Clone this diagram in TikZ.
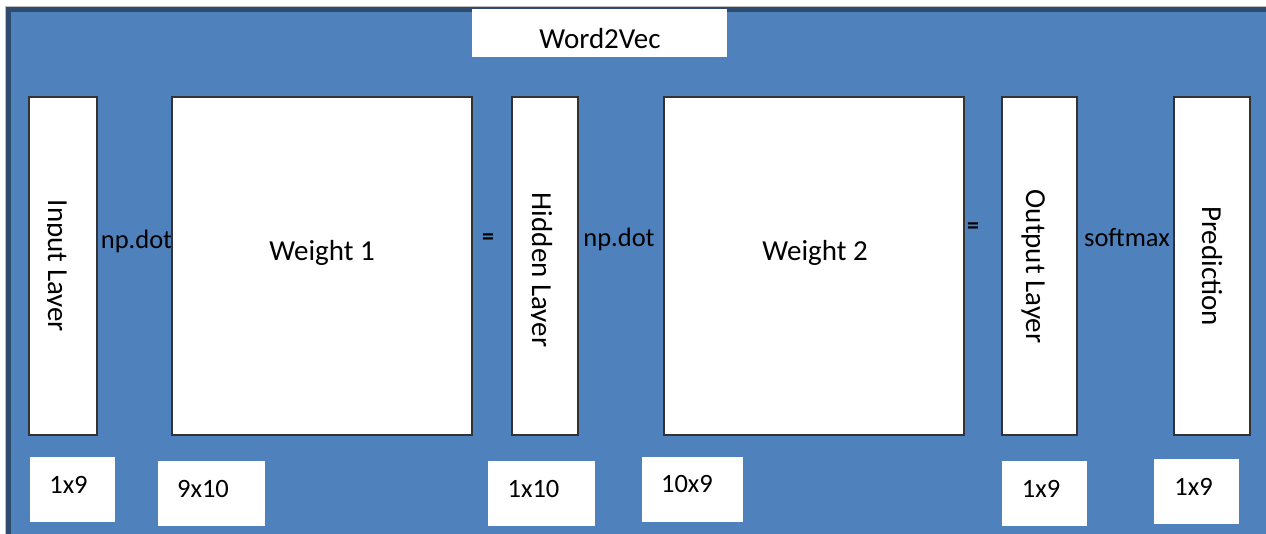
\documentclass[tikz,border=0pt]{standalone}
\usepackage{fontspec}
\setmainfont{Carlito}
\definecolor{bg}{HTML}{4F81BD}
\definecolor{frameblue}{HTML}{2E4A6E}
\definecolor{edge}{HTML}{333333}
\begin{document}
\begin{tikzpicture}[x=1pt,y=-1pt,
  tall/.style={draw=edge, line width=1.4pt, fill=white, inner sep=0pt, outer sep=0pt, anchor=north west, minimum height=338pt},
  dimbox/.style={fill=white, inner sep=0pt, outer sep=0pt, anchor=north west, minimum height=65pt},
  big/.style={font=\fontsize{29}{34}\selectfont, inner sep=0pt, anchor=base},
  small/.style={font=\fontsize{26.5}{32}\selectfont, inner sep=0pt, anchor=base},
  eqsign/.style={font=\fontsize{24}{30}\selectfont\bfseries, inner sep=0pt, anchor=center},
  vert/.style={big, rotate=-90, anchor=base}]
\useasboundingbox (0,0) rectangle (1266,533);
\fill[white] (0,0) rectangle (1266,533);
\draw[black!25, line width=1pt] (5.5,6.5) rectangle (1290,560);
\filldraw[fill=bg, draw=frameblue, line width=5pt] (8.5,9.5) rectangle (1290,560);

% operator labels (drawn first so boxes overlap them)
\node[small] (dot1) at (136.5,248) {np.dot};
\node[eqsign] (eq1) at (488,239) {=};
\node[small] (dot2) at (619,246) {np.dot};
\node[eqsign] (eq2) at (973,228) {=};
\node[small] (soft) at (1127,246) {softmax};

% title
\node[fill=white, inner sep=0pt, outer sep=0pt, anchor=north west, minimum width=255pt, minimum height=48pt] (titlebox) at (472,9) {};
\node[big] (title) at (600,48) {Word2Vec};

% tall boxes
\node[tall, minimum width=68pt] (input) at (29,97) {};
\node[tall, minimum width=300pt] (w1) at (172,97) {};
\node[tall, minimum width=66pt] (hidden) at (512,97) {};
\node[tall, minimum width=300pt] (w2) at (664,97) {};
\node[tall, minimum width=75pt] (output) at (1002,97) {};
\node[tall, minimum width=76pt] (pred) at (1174,97) {};

\begin{scope}
  \clip (47.5,98) rectangle (96,434);
  \node[vert] (inputtxt) at (48,266) {Input Layer};
\end{scope}
\node[big] (w1txt) at (322,260) {Weight 1};
\begin{scope}
  \clip (531.5,98) rectangle (577,434);
  \node[vert] (hiddentxt) at (532,270) {Hidden Layer};
\end{scope}
\node[big] (w2txt) at (815,260) {Weight 2};
\node[vert] (outputtxt) at (1026,266.5) {Output Layer};
\node[vert] (predtxt) at (1202,266) {Prediction};

% dimension boxes
\node[dimbox, minimum width=85pt] (d1) at (30,457) {};
\node[small] (d1t) at (68.5,493) {1x9};
\node[dimbox, minimum width=107pt] (d2) at (158,461) {};
\node[small] (d2t) at (203,497) {9x10};
\node[dimbox, minimum width=107pt] (d3) at (488,461) {};
\node[small] (d3t) at (533.5,497) {1x10};
\node[dimbox, minimum width=101pt] (d4) at (642,457) {};
\node[small] (d4t) at (687,492) {10x9};
\node[dimbox, minimum width=85pt] (d5) at (1002,461) {};
\node[small] (d5t) at (1041,497) {1x9};
\node[dimbox, minimum width=85pt] (d6) at (1154,459) {};
\node[small] (d6t) at (1193.5,495) {1x9};
\end{tikzpicture}
\end{document}
